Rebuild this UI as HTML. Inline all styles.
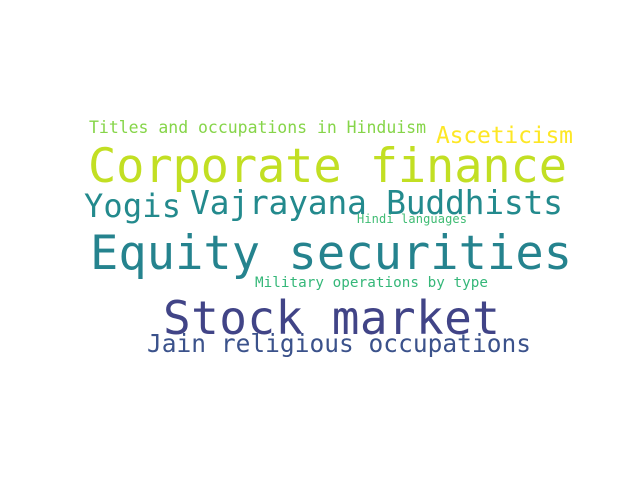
<!DOCTYPE html>
<html><head><meta charset="utf-8"><style>
html,body{margin:0;padding:0;background:#fff;}
svg text{font-family:"DejaVu Sans Mono","Liberation Mono",monospace;}
</style></head><body>
<svg width="640" height="480" viewBox="0 0 640 480">
<rect width="640" height="480" fill="#fff"/>
<text x="89" y="133" font-size="16.5" fill="#86d549" textLength="337">Titles and occupations in Hinduism</text>
<text x="436" y="143" font-size="23" fill="#fde725" textLength="137">Asceticism</text>
<text x="88" y="182" font-size="47" fill="#c2df23" textLength="479">Corporate finance</text>
<text x="84" y="217" font-size="32" fill="#238a8d" textLength="97">Yogis</text>
<text x="190" y="214" font-size="33" fill="#238a8d" textLength="373">Vajrayana Buddhists</text>
<text x="357" y="223" font-size="12" fill="#3fbc73" textLength="110">Hindi languages</text>
<text x="90" y="269" font-size="47" fill="#25838e" textLength="482">Equity securities</text>
<text x="255" y="287" font-size="14.3" fill="#35b779" textLength="233">Military operations by type</text>
<text x="163" y="334" font-size="46" fill="#414487" textLength="337">Stock market</text>
<text x="147" y="352" font-size="24.5" fill="#3b528b" textLength="384">Jain religious occupations</text>
</svg>
</body></html>
